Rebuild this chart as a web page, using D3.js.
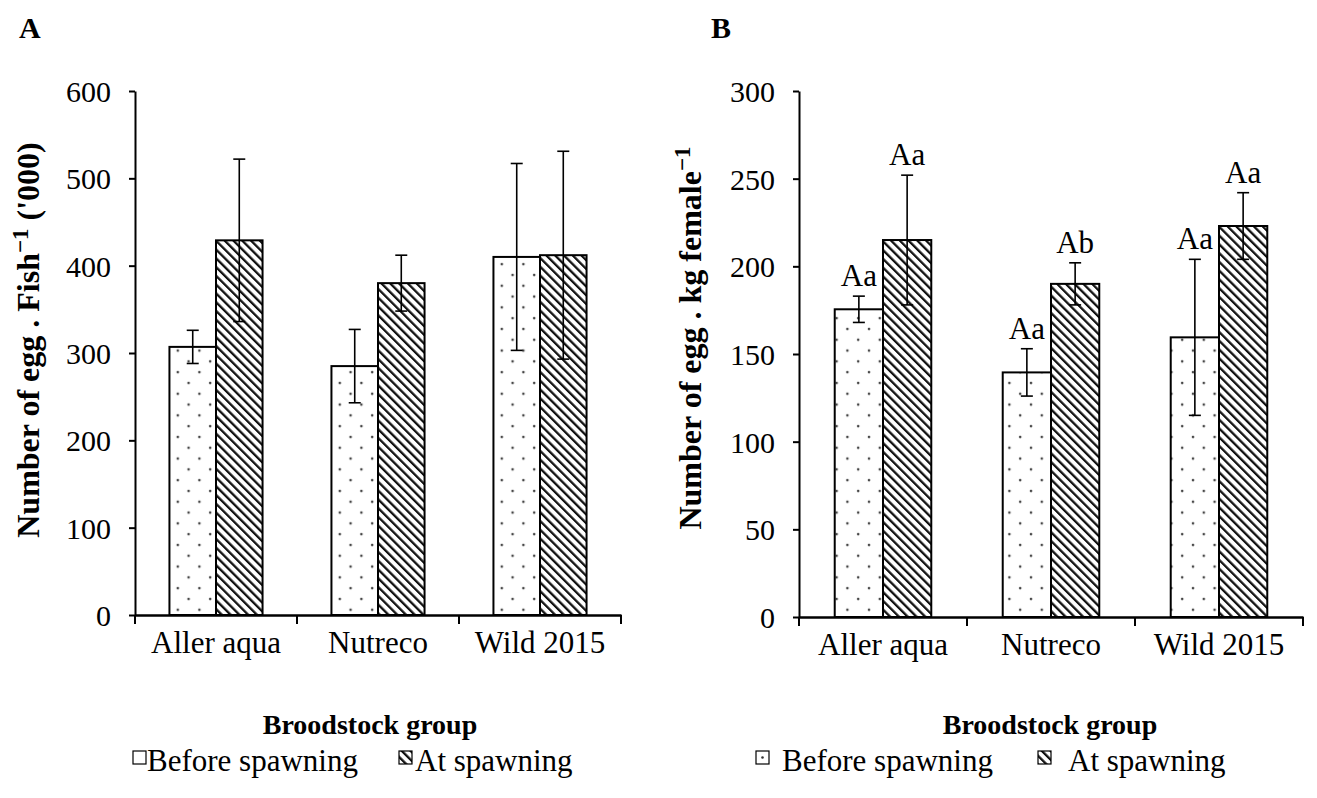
<!DOCTYPE html>
<html>
<head>
<meta charset="utf-8">
<script src="https://cdn.jsdelivr.net/npm/d3@7"></script>
<style>
  body { margin: 0; background: #fff; }
  svg text { font-family: "Liberation Serif", "Times New Roman", serif; fill: #000; }
</style>
</head>
<body>
<div id="chart"></div>
<script>
// data
const groups = ["Aller aqua", "Nutreco", "Wild 2015"];
const seriesNames = ["Before spawning", "At spawning"];

// panel A: number of egg per fish ('000)
const fishBefore = [307, 285, 410];
const fishBeforeErr = [19, 42, 107];
const fishAt = [429, 380, 412];
const fishAtErr = [93, 32, 119];
const fishTicks = [0, 100, 200, 300, 400, 500, 600];

// panel B: number of egg per kg female
const kgBefore = [175.5, 139.5, 159.5];
const kgBeforeErr = [7.5, 13.5, 44.5];
const kgAt = [215, 190, 223];
const kgAtErr = [37, 12, 19];
const kgTicks = [0, 50, 100, 150, 200, 250, 300];
const kgLetters = [["Aa", "Aa"], ["Aa", "Ab"], ["Aa", "Aa"]];

const svg = d3.select("#chart").append("svg")
  .attr("width", 1317)
  .attr("height", 798);

// fill patterns
const defs = svg.append("defs");
const dots = defs.append("pattern")
  .attr("id", "dots")
  .attr("patternUnits", "userSpaceOnUse")
  .attr("width", 21.6).attr("height", 21.6);
dots.append("rect").attr("width", 21.6).attr("height", 21.6).attr("fill", "#fff");
dots.append("circle").attr("cx", 5).attr("cy", 5).attr("r", 1.3).attr("fill", "#444");
dots.append("circle").attr("cx", 15.8).attr("cy", 15.8).attr("r", 1.3).attr("fill", "#444");

// back-slash hatch
const hatch = defs.append("pattern")
  .attr("id", "hatch")
  .attr("patternUnits", "userSpaceOnUse")
  .attr("width", 6.2).attr("height", 6.2)
  .attr("patternTransform", "rotate(-45)");
hatch.append("rect").attr("width", 6.2).attr("height", 6.2).attr("fill", "#fff");
hatch.append("rect").attr("x", 0).attr("width", 2.3).attr("height", 6.2).attr("fill", "#111");

function drawPanel(opt) {
  const g = svg.append("g");
  const x = d3.scaleBand().domain(groups).range([opt.x0, opt.x1]).padding(0);
  const xs = d3.scaleBand().domain(seriesNames).range([0, x.bandwidth()])
    .paddingInner(0).paddingOuter(0.74);
  const y = d3.scaleLinear().domain([0, opt.ticks[opt.ticks.length - 1]]).range([opt.y0, opt.y1]);

  const rows = [];
  groups.forEach(function (gname, i) {
    rows.push({ group: gname, s: seriesNames[0], v: opt.before[i], e: opt.beforeErr[i], i: i, k: 0 });
    rows.push({ group: gname, s: seriesNames[1], v: opt.at[i], e: opt.atErr[i], i: i, k: 1 });
  });

  // bars
  g.selectAll(".bar")
    .data(rows)
    .enter().append("rect")
    .attr("class", "bar")
    .attr("x", function (d) { return x(d.group) + xs(d.s); })
    .attr("y", function (d) { return y(d.v); })
    .attr("width", xs.bandwidth())
    .attr("height", function (d) { return y(0) - y(d.v); })
    .attr("fill", function (d) { return d.k === 0 ? "url(#dots)" : "url(#hatch)"; })
    .attr("stroke", "#000")
    .attr("stroke-width", 2);

  // error bars
  const eb = g.selectAll(".err")
    .data(rows)
    .enter().append("g")
    .attr("class", "err")
    .attr("stroke", "#000")
    .attr("stroke-width", 1.6);
  const cx = function (d) { return x(d.group) + xs(d.s) + xs.bandwidth() / 2; };
  eb.append("line")
    .attr("x1", cx).attr("x2", cx)
    .attr("y1", function (d) { return y(d.v + d.e); })
    .attr("y2", function (d) { return y(d.v - d.e); });
  eb.append("line")
    .attr("x1", function (d) { return cx(d) - 6; }).attr("x2", function (d) { return cx(d) + 6; })
    .attr("y1", function (d) { return y(d.v + d.e); })
    .attr("y2", function (d) { return y(d.v + d.e); });
  eb.append("line")
    .attr("x1", function (d) { return cx(d) - 6; }).attr("x2", function (d) { return cx(d) + 6; })
    .attr("y1", function (d) { return y(d.v - d.e); })
    .attr("y2", function (d) { return y(d.v - d.e); });

  // significance letters
  if (opt.letters) {
    g.selectAll(".letter")
      .data(rows)
      .enter().append("text")
      .attr("class", "letter")
      .attr("x", cx)
      .attr("y", function (d) { return y(d.v + d.e) - 10; })
      .attr("text-anchor", "middle")
      .style("font-size", "31px")
      .text(function (d) { return opt.letters[d.i][d.k]; });
  }

  // y axis
  const yAxis = g.append("g")
    .attr("class", "axis axis-y")
    .attr("transform", "translate(" + opt.x0 + ",0)")
    .call(d3.axisLeft(y).tickValues(opt.ticks).tickSize(6).tickPadding(18).tickSizeOuter(0));
  yAxis.select(".domain").attr("stroke-width", 2);
  yAxis.selectAll(".tick line").attr("stroke-width", 2);
  yAxis.selectAll("text").style("font-size", "30px").attr("dy", "0.35em");

  // x axis with ticks at band boundaries
  const xAxis = g.append("g")
    .attr("class", "axis axis-x")
    .attr("transform", "translate(0," + opt.y0 + ")")
    .call(d3.axisBottom(x).tickSize(0).tickPadding(16).tickSizeOuter(0));
  xAxis.select(".domain").attr("stroke-width", 2.4);
  xAxis.selectAll("text").style("font-size", "31px").attr("dy", "0.71em");
  xAxis.selectAll(".sep")
    .data(groups.map(function (d) { return x(d); }).concat([opt.x1]))
    .enter().append("line")
    .attr("class", "sep")
    .attr("x1", function (d) { return d; }).attr("x2", function (d) { return d; })
    .attr("y1", 0).attr("y2", 9)
    .attr("stroke", "#000").attr("stroke-width", 2);

  // titles
  g.append("text")
    .attr("transform", "translate(" + opt.yTitleX + "," + opt.yTitleY + ") rotate(-90)")
    .attr("text-anchor", "middle")
    .style("font-size", "32px").style("font-weight", "bold")
    .html(opt.yTitle);
  g.append("text")
    .attr("x", opt.xTitleX)
    .attr("y", 734)
    .attr("text-anchor", "middle")
    .style("font-size", "28px").style("font-weight", "bold")
    .text("Broodstock group");
  g.append("text")
    .attr("x", opt.panelX).attr("y", 38)
    .style("font-size", "30px").style("font-weight", "bold")
    .text(opt.panel);

  // legend
  const leg = g.selectAll(".legend")
    .data(seriesNames)
    .enter().append("g")
    .attr("class", "legend");
  leg.append("rect")
    .attr("x", function (d, i) { return opt.legX[i]; }).attr("y", 751)
    .attr("width", 13).attr("height", 13)
    .attr("fill", function (d, i) { return i === 0 ? "#fff" : "url(#hatch)"; })
    .attr("stroke", "#000").attr("stroke-width", 1.2);
  if (opt.legDot) {
    leg.filter(function (d, i) { return i === 0; })
      .append("circle").attr("cx", opt.legX[0] + 6.5).attr("cy", 757.5).attr("r", 1.3).attr("fill", "#333");
  }
  leg.append("text")
    .attr("x", function (d, i) { return opt.legTextX[i]; })
    .attr("y", 771)
    .style("font-size", "31px")
    .text(function (d) { return d; });
}

drawPanel({
  x0: 135, x1: 621, y0: 615, y1: 91,
  ticks: fishTicks, before: fishBefore, beforeErr: fishBeforeErr, at: fishAt, atErr: fishAtErr,
  yTitle: "Number of egg . Fish<tspan dy='-11' style='font-size:23px'>\u22121</tspan><tspan dy='11'> ('000)</tspan>",
  yTitleX: 39, yTitleY: 340, xTitleX: 370,
  panel: "A", panelX: 19,
  legX: [133, 399], legTextX: [147, 415], legDot: false
});

drawPanel({
  x0: 799, x1: 1303, y0: 617, y1: 91,
  ticks: kgTicks, before: kgBefore, beforeErr: kgBeforeErr, at: kgAt, atErr: kgAtErr,
  letters: kgLetters,
  yTitle: "Number of egg . kg female<tspan dy='-11' style='font-size:23px'>\u22121</tspan>",
  yTitleX: 701, yTitleY: 338, xTitleX: 1050,
  panel: "B", panelX: 711,
  legX: [756, 1038], legTextX: [782, 1068], legDot: true
});
</script>
</body>
</html>
